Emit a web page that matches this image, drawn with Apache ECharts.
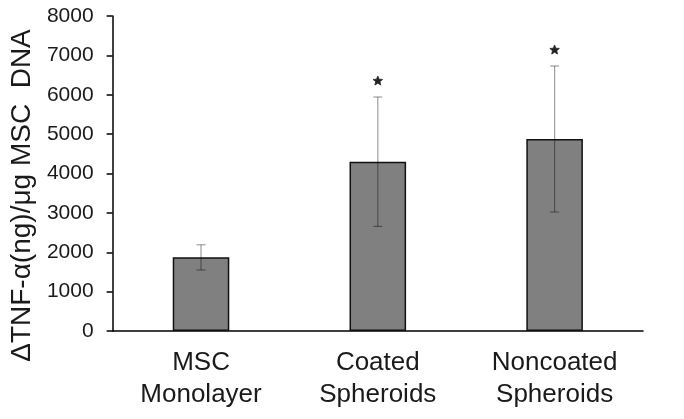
<!DOCTYPE html>
<html><head><meta charset="utf-8">
<script src="https://cdn.jsdelivr.net/npm/echarts@6/dist/echarts.min.js"></script>
<style>html,body{margin:0;padding:0;background:#fff}#c{width:684px;height:419px}</style>
</head><body><div id="c"></div>
<script>
const categories = ['MSC\nMonolayer', 'Coated\nSpheroids', 'Noncoated\nSpheroids'];
const means = [1870, 4300, 4876];
const errors = [320, 1643, 1854];
const significance = ['', '*', '*'];
const yTicks = { min: 0, max: 8000, interval: 1000 };

const chart = echarts.init(document.getElementById('c'));
const font = '"Liberation Sans", Arial, sans-serif';

function starPoints(cx, cy, R, r) {
  const pts = [];
  for (let k = 0; k < 10; k++) {
    const ang = -Math.PI / 2 + k * Math.PI / 5;
    const rad = k % 2 === 0 ? R : r;
    pts.push([cx + rad * Math.cos(ang), cy + rad * Math.sin(ang)]);
  }
  return pts;
}

chart.setOption({
  animation: false,
  grid: { left: 110, right: 41, top: 16, bottom: 88 },
  xAxis: {
    type: 'category', data: categories,
    axisLine: { lineStyle: { color: '#000', width: 1.5 } },
    axisTick: { show: false },
    axisLabel: { fontFamily: font, fontSize: 26, color: '#1a1a1a', lineHeight: 32, margin: 16 }
  },
  yAxis: {
    type: 'value', min: yTicks.min, max: yTicks.max, interval: yTicks.interval,
    name: 'ΔTNF-α(ng)/μg MSC  DNA', nameLocation: 'middle', nameGap: 74, nameRotate: 90,
    nameTextStyle: { fontFamily: font, fontSize: 28, color: '#1a1a1a', padding: [0, 44, 0, 0] },
    axisLine: { show: true, lineStyle: { color: '#000', width: 1.5 } },
    axisTick: { show: true, length: 6, lineStyle: { color: '#000', width: 1.5 } },
    splitLine: { show: false },
    axisLabel: { fontFamily: font, fontSize: 21, color: '#1a1a1a', margin: 19, formatter: v => String(v) }
  },
  series: [
    {
      type: 'bar', data: means, barWidth: '32%',
      itemStyle: { color: '#808080', borderColor: '#111', borderWidth: 1.5 }
    },
    {
      type: 'custom', z: 5,
      data: means.map((m, i) => [i, m, errors[i]]),
      renderItem: function (params, api) {
        const i = api.value(0), m = api.value(1), e = api.value(2);
        const sig = significance[i];
        const top = api.coord([i, m + e]);
        const bot = api.coord([i, m - e]);
        const cw = 4.5;
        const st = { stroke: 'rgba(0,0,0,0.38)', lineWidth: 1.2 };
        const children = [
          { type: 'line', shape: { x1: top[0], y1: top[1], x2: bot[0], y2: bot[1] }, style: st },
          { type: 'line', shape: { x1: top[0] - cw, y1: top[1], x2: top[0] + cw, y2: top[1] }, style: st },
          { type: 'line', shape: { x1: bot[0] - cw, y1: bot[1], x2: bot[0] + cw, y2: bot[1] }, style: st }
        ];
        if (sig) {
          children.push({ type: 'polygon', shape: { points: starPoints(top[0], top[1] - 16, 5, 2.2) },
            style: { fill: '#222', stroke: '#222', lineWidth: 0.8 } });
        }
        return { type: 'group', children: children };
      }
    }
  ]
});
</script></body></html>
